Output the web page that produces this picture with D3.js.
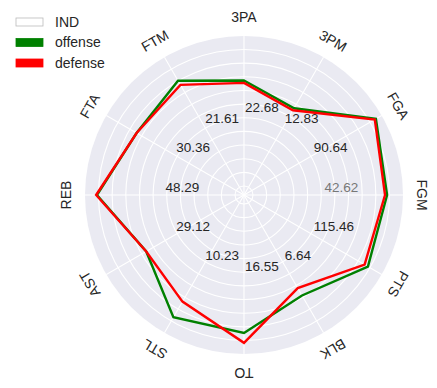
<!DOCTYPE html>
<html>
<head>
<meta charset="utf-8">
<script src="https://cdn.jsdelivr.net/npm/d3@7"></script>
<style>
  body { margin: 0; background: #fff; }
  text { font-family: Arial, "Liberation Sans", sans-serif; fill: #262626; }
</style>
</head>
<body>
<svg id="chart" width="437" height="388"></svg>
<script>
// axes, clockwise from the top
var categories = ['3PA', '3PM', 'FGA', 'FGM', 'PTS', 'BLK', 'TO', 'STL', 'AST', 'REB', 'FTA', 'FTM'];
// scale label shown on each axis
var scaleLabels = ['22.68', '12.83', '90.64', '42.62', '115.46', '6.64', '16.55', '10.23', '29.12', '48.29', '30.36', '21.61'];
// values scaled to the outer ring (0..1)
var offense = [0.72, 0.63, 0.958, 0.90, 0.90, 0.73, 0.868, 0.888, 0.71, 0.925, 0.78, 0.83];
var defense = [0.705, 0.615, 0.95, 0.887, 0.876, 0.676, 0.93, 0.774, 0.71, 0.93, 0.78, 0.80];
var legendNames = ['IND', 'offense', 'defense'];

var cx = 244, cy = 195, R = 159;
var svg = d3.select('#chart');

var r = d3.scaleLinear().domain([0, 1]).range([0, R]);
var angle = d3.scalePoint().domain(categories).range([0, 2 * Math.PI * 11 / 12]);

var g = svg.append('g').attr('transform', 'translate(' + cx + ',' + cy + ')');

// background disc
g.append('circle').attr('r', R).attr('fill', '#EAEAF2');

// grid rings
var rings = d3.range(11).map(function(k) { return (9 + k * 13.65) / R; });
g.selectAll('.ring').data(rings).enter().append('circle')
    .attr('class', 'ring')
    .attr('r', function(d) { return r(d); })
    .attr('fill', 'none')
    .attr('stroke', '#fff')
    .attr('stroke-width', 1.1);

// spokes
g.selectAll('.spoke').data(categories).enter().append('line')
    .attr('class', 'spoke')
    .attr('x1', 0).attr('y1', 0)
    .attr('x2', function(d) { return r(1) * Math.sin(angle(d)); })
    .attr('y2', function(d) { return -r(1) * Math.cos(angle(d)); })
    .attr('stroke', '#fff')
    .attr('stroke-width', 1.1);

// axis labels, rotated with their spoke
g.selectAll('.cat').data(categories).enter().append('text')
    .attr('class', 'cat')
    .attr('transform', function(d) {
        var a = angle(d), rr = R + 19;
        return 'translate(' + (rr * Math.sin(a)) + ',' + (-rr * Math.cos(a)) + ') rotate(' + (a * 180 / Math.PI) + ')';
    })
    .attr('text-anchor', 'middle')
    .attr('dy', '0.35em')
    .style('font-size', '14px')
    .text(function(d) { return d; });

// scale labels halfway out
g.selectAll('.scl').data(scaleLabels).enter().append('text')
    .attr('class', 'scl')
    .attr('x', function(d, i) { return r(0.5) * Math.sin(angle(categories[i])) + 1; })
    .attr('y', function(d, i) { return -r(0.5) * Math.cos(angle(categories[i])) - 3.5; })
    .style('font-size', '13.5px')
    .style('fill', function(d, i) { return categories[i] == 'FGM' ? '#777' : '#262626'; })
    .text(function(d) { return d; });

var line = d3.lineRadial()
    .angle(function(d, i) { return angle(categories[i]); })
    .radius(function(d) { return r(d); })
    .curve(d3.curveLinearClosed);

g.append('path').datum(offense)
    .attr('d', line)
    .attr('fill', 'none')
    .attr('stroke', 'green')
    .attr('stroke-width', 2.4);

g.append('path').datum(defense)
    .attr('d', line)
    .attr('fill', 'none')
    .attr('stroke', 'red')
    .attr('stroke-width', 2.4);

// legend
var fills = ['#fff', 'green', 'red'];
var strokes = ['#bbb', 'green', 'red'];
var lg = svg.append('g').attr('transform', 'translate(16,18)');
var items = lg.selectAll('g').data(legendNames).enter().append('g')
    .attr('transform', function(d, i) { return 'translate(0,' + (i * 20.5) + ')'; });
items.append('rect')
    .attr('width', 27).attr('height', 8)
    .attr('fill', function(d, i) { return fills[i]; })
    .attr('stroke', function(d, i) { return strokes[i]; })
    .attr('stroke-width', 0.8);
items.append('text')
    .attr('x', 39).attr('y', 4)
    .attr('dy', '0.35em')
    .style('font-size', '14px')
    .text(function(d) { return d; });
</script>
</body>
</html>
